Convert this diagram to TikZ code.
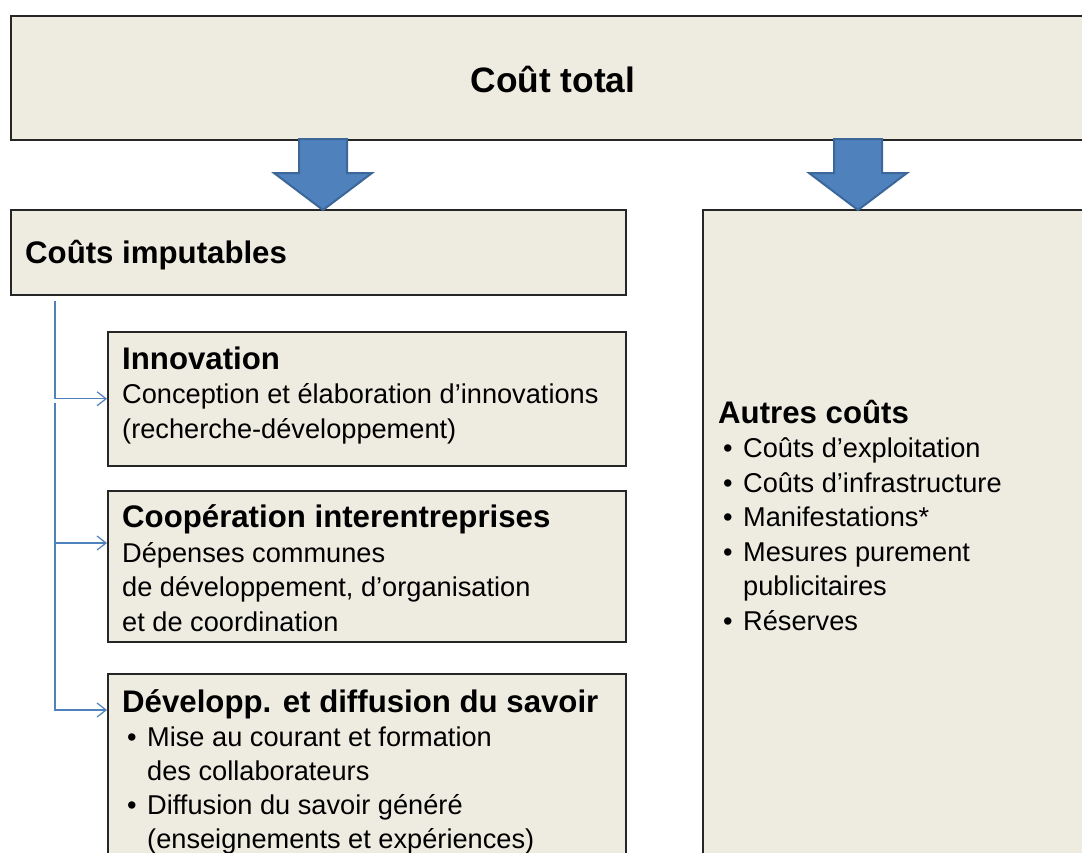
\documentclass[tikz,border=0pt]{standalone}
\usepackage{fontspec}
\setmainfont{Liberation Sans}
\usetikzlibrary{arrows.meta,calc}
\definecolor{boxfill}{HTML}{EEECE1}
\definecolor{arrfill}{HTML}{4F81BD}
\definecolor{arrdraw}{HTML}{3C6799}
\definecolor{conncol}{HTML}{4F81BD}
\tikzset{
 panel/.style={draw=black!85, line width=1.5pt, fill=boxfill, rectangle, inner sep=0pt, anchor=north west},
 blockarrow/.style={draw=arrdraw, line width=2pt, fill=arrfill, line join=miter},
 conn/.style={draw=conncol, line width=1.2pt, -{Straight Barb[length=9pt,width=14pt]}},
 body/.style={font=\fontsize{27.2}{34.5}\selectfont, align=left, anchor=base west, inner sep=0pt},
}
\newcommand\headf{\fontsize{31.2}{34.5}\selectfont\bfseries}
\newcommand\bul{\hspace*{5pt}\makebox[20pt][l]{\textbullet}}
\begin{document}
\begin{tikzpicture}[x=1pt,y=-1pt]
\useasboundingbox (0,0) rectangle (1082,852);
\clip (0,0) rectangle (1082,852);
\fill[white] (0,0) rectangle (1082,852);

% boxes
\node[panel, minimum width=1100pt, minimum height=124pt] (top) at (10,15) {};
\node[panel, minimum width=615pt, minimum height=85pt] (imput) at (10,209) {};
\node[panel, minimum width=420pt, minimum height=700pt] (autres) at (702,209) {};
\node[panel, minimum width=518pt, minimum height=134pt] (innov) at (107,331) {};
\node[panel, minimum width=518pt, minimum height=151pt] (coop) at (107,490) {};
\node[panel, minimum width=518pt, minimum height=250pt] (dev) at (107,673) {};

% texts (base anchor = baseline of the last line)
\node[font=\fontsize{35.3}{40}\selectfont\bfseries, inner sep=0pt] (ttl) at (553,79) {Coût total};
\node[body, font=\fontsize{31.2}{34.5}\selectfont\bfseries] (timput) at (25,263) {Coûts imputables};
\node[body] (tinnov) at (122,438) {{\headf Innovation}\\Conception et élaboration d’innovations\\(recherche-développement)};
\node[body] (tcoop) at (122,631) {{\headf Coopération interentreprises}\\Dépenses communes\\de développement, d’organisation\\et de coordination};
\node[body, font=\fontsize{27.2}{33.8}\selectfont] (tdev) at (122,848) {{\fontsize{31.2}{33.8}\selectfont\bfseries Développ. et diffusion du savoir}\\\bul Mise au courant et formation\\\hspace*{25pt}des collaborateurs\\\bul Diffusion du savoir généré\\\hspace*{25pt}(enseignements et expériences)};
\node[body] (tautres) at (718,630) {{\headf Autres coûts}\\\bul Coûts d’exploitation\\\bul Coûts d’infrastructure\\\bul Manifestations*\\\bul Mesures purement\\\hspace*{25pt}publicitaires\\\bul Réserves};

% block arrows
\path[blockarrow] (299,139) -- (347,139) -- (347,173) -- (372,173) -- (323,210) -- (274,173) -- (299,173) -- cycle;
\path[blockarrow] (834,139) -- (882,139) -- (882,173) -- (907,173) -- (858,210) -- (809,173) -- (834,173) -- cycle;

% connectors
\coordinate (c1) at (55,301);
\coordinate (c2) at (55,403);
\draw[conn] (c1) |- (innov.west);
\draw[conn] (c2) |- ($(coop.north west)+(0,53)$);
\draw[conn] (c2) |- ($(dev.north west)+(0,37)$);
\end{tikzpicture}
\end{document}
